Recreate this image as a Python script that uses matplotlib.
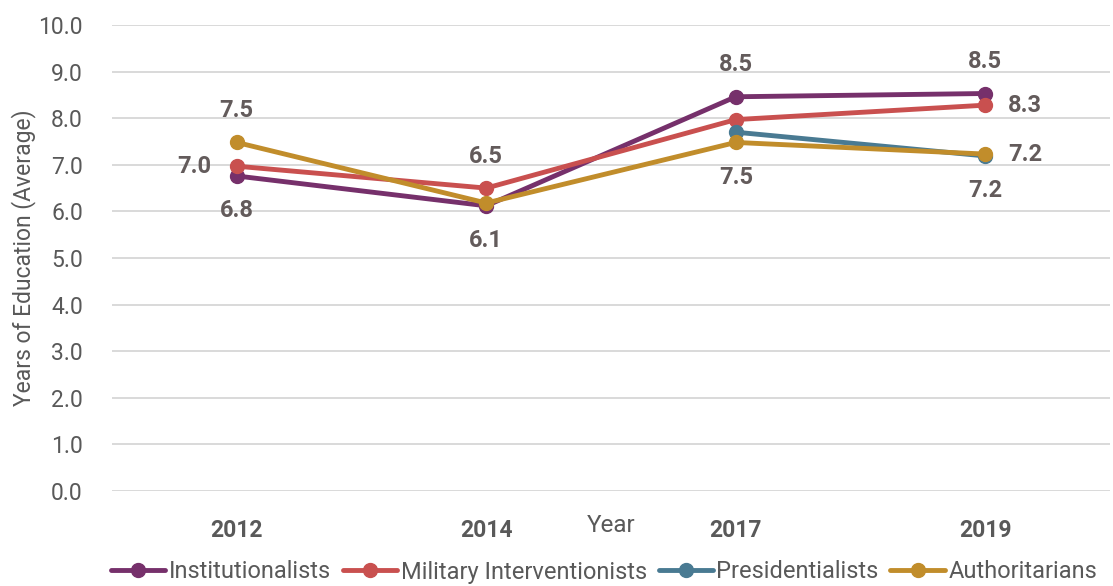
import matplotlib
matplotlib.use("Agg")
import matplotlib.pyplot as plt
import numpy as np

years = ["2012", "2014", "2017", "2019"]
series_names = ["Institutionalists", "Military Interventionists", "Presidentialists", "Authoritarians"]
institutionalists = [6.76, 6.12, 8.46, 8.53]
military = [6.97, 6.50, 7.97, 8.28]
presidentialists = [np.nan, np.nan, 7.70, 7.19]
authoritarians = [7.48, 6.18, 7.48, 7.23]
yticks = [0, 1, 2, 3, 4, 5, 6, 7, 8, 9, 10]

values = [institutionalists, military, presidentialists, authoritarians]
colors = ["#76306B", "#C9504F", "#497A92", "#C18D2B"]
# label placement per point (style)
label_pos = [
    ["below", "below", "above", "above"],
    ["left", "above", None, "right"],
    [None, None, None, "below"],
    ["above", None, "below", "right"],
]
offsets = {"below": (0, -35), "above": (0, 32), "left": (-42, 0), "right": (40, 0)}

plt.rcParams['font.family'] = ['Roboto', 'DejaVu Sans']
fig = plt.figure(figsize=(11.13, 5.86), dpi=100)
ax = fig.add_axes([112/1113, 1 - 491/586, (1110-112)/1113, (491-25)/586])

x = np.arange(len(years))
for name, vals, c, pos in zip(series_names, values, colors, label_pos):
    ax.plot(x, vals, color=c, lw=3.5, marker='o', markersize=10, label=name,
            solid_capstyle='round', zorder=3)
    for xi, v, p in zip(x, vals, pos):
        if p is None or np.isnan(v):
            continue
        dx, dy = offsets[p]
        ax.annotate(f"{v:.1f}", (xi, v), xytext=(dx, dy), textcoords='offset pixels',
                    ha='center', va='center', fontsize=17, fontweight='bold',
                    color='#635B5B', zorder=5)

ax.set_xlim(-0.5, 3.5)
ax.set_ylim(0, 10)
ax.set_yticks(yticks)
ax.set_yticklabels([f"{t:.1f}" for t in yticks], fontsize=16.5, color='#595959')
ax.set_xticks(x)
ax.set_xticklabels(years, fontsize=16.5, fontweight='bold', color='#595959')
ax.tick_params(axis='y', length=0, pad=21)
ax.tick_params(axis='x', length=0, pad=20)
ax.grid(axis='y', color='#D9D9D9', lw=1.4)
ax.set_axisbelow(True)
for s in ax.spines.values():
    s.set_visible(False)
ax.set_xlabel("Year", fontsize=17.5, color='#595959', labelpad=-20)
ax.set_ylabel("Years of Education (Average)", fontsize=16.5, color='#595959', labelpad=2)

leg = fig.legend(loc='center', bbox_to_anchor=(604/1113, 1 - 572/586), ncol=4, frameon=False,
                 fontsize=17, handlelength=2.3, columnspacing=0.5, handletextpad=0.15,
                 labelcolor='#595959', borderpad=0.1)

fig.savefig("out.png", dpi=100)
